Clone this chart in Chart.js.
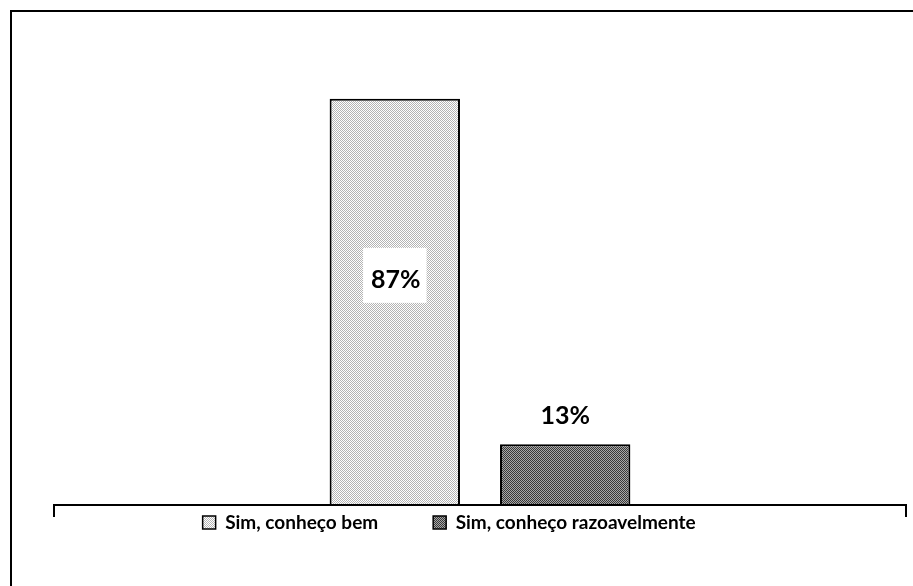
<!DOCTYPE html>
<html>
<head>
<meta charset="utf-8">
<script src="https://cdn.jsdelivr.net/npm/chart.js@4"></script>
<style>
  body { margin: 0; background: #fff; }
  #wrap { width: 913px; height: 586px; }
</style>
</head>
<body>
<div id="wrap"><canvas id="myChart" width="913" height="586"></canvas></div>
<script>
const categories = [""];
const seriesNames = ["Sim, conheço bem", "Sim, conheço razoavelmente"];
const seriesValues = [[87], [13]];
const valueLabels = ["87%", "13%"];

function dither(c1, c2) {
    const p = document.createElement("canvas");
    p.width = 2;
    p.height = 2;
    const g = p.getContext("2d");
    g.fillStyle = c1;
    g.fillRect(0, 0, 2, 2);
    g.fillStyle = c2;
    g.fillRect(0, 0, 1, 1);
    g.fillRect(1, 1, 1, 1);
    return g.createPattern(p, "repeat");
}

const ctx = document.getElementById("myChart");
const fills = [dither("#ffffff", "#b4b4b4"), dither("#a8a8a8", "#383838")];

// frame, axis line with end ticks, value labels
const decor = {
    id: "decor",
    beforeDraw(chart) {
        const c = chart.ctx;
        c.save();
        c.strokeStyle = "#000";
        c.lineWidth = 2;
        c.strokeRect(11, 11, 1000, 1000);
        c.restore();
    },
    afterDatasetsDraw(chart) {
        const c = chart.ctx;
        const a = chart.chartArea;
        const y0 = chart.scales.y.getPixelForValue(0);
        c.save();
        c.strokeStyle = "#000";
        c.lineWidth = 2;
        c.beginPath();
        c.moveTo(a.left, y0 + 12);
        c.lineTo(a.left, y0);
        c.lineTo(a.right, y0);
        c.lineTo(a.right, y0 + 12);
        c.stroke();

        c.font = "bold 25px Lato";
        c.textAlign = "center";
        c.textBaseline = "middle";
        c.fillStyle = "#000";
        chart.data.datasets.forEach((ds, i) => {
            const bar = chart.getDatasetMeta(i).data[0];
            const txt = valueLabels[i];
            if (i === 0) {
                const cy = (bar.y + bar.base) / 2 - 26;
                const w = c.measureText(txt).width + 14;
                c.fillStyle = "#fff";
                c.fillRect(bar.x - w / 2, cy - 28, w, 55);
                c.fillStyle = "#000";
                c.fillText(txt, bar.x + 1, cy + 4);
            } else {
                c.fillText(txt, bar.x, bar.y - 28);
            }
        });
        c.restore();
    },
};

const chart = new Chart(ctx, {
    type: "bar",
    data: {
        labels: categories,
        datasets: seriesNames.map((name, i) => ({
            label: name,
            data: seriesValues[i],
            backgroundColor: fills[i],
            borderColor: "#000",
            borderWidth: 2,
            borderSkipped: "bottom",
            categoryPercentage: 0.4,
            barPercentage: 0.765,
        })),
    },
    options: {
        responsive: false,
        animation: false,
        events: [],
        layout: {
            padding: { left: 54, right: 7, top: 38, bottom: 44 },
        },
        scales: {
            x: { display: false },
            y: { display: false, min: 0, max: 100 },
        },
        plugins: {
            tooltip: { enabled: false },
            title: { display: false },
            legend: {
                position: "bottom",
                labels: {
                    font: { family: "Lato", size: 19, weight: "bold" },
                    color: "#000",
                    boxWidth: 13,
                    boxHeight: 13,
                    padding: 8,
                    generateLabels(chart) {
                        return chart.data.datasets.map((ds, i) => ({
                            text: i === 0 ? ds.label + "\u2003\u2003    " : ds.label + "\u2003\u2003\u2003\u2003 ",
                            fillStyle: ds.backgroundColor,
                            strokeStyle: "#000",
                            lineWidth: 1.5,
                            datasetIndex: i,
                        }));
                    },
                },
            },
        },
    },
    plugins: [decor],
});
</script>
</body>
</html>
